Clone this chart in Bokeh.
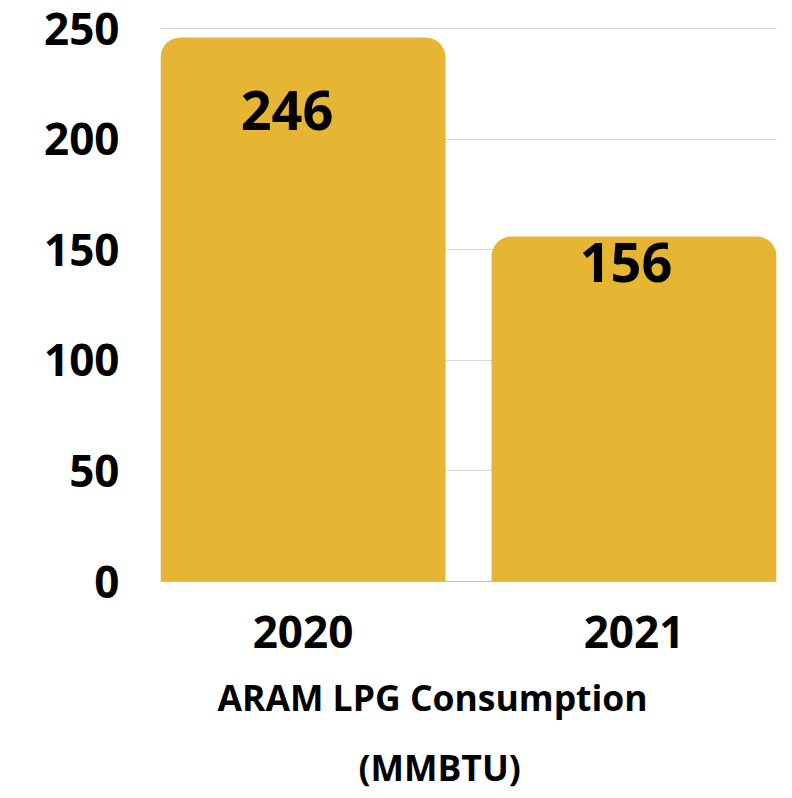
from bokeh.plotting import figure
from bokeh.models import ColumnDataSource, FactorRange, Range1d, LabelSet, SingleIntervalTicker, Title
from bokeh.core.properties import value
from bokeh.embed import file_html
from bokeh.resources import INLINE

years = ["2020", "2021"]
consumption = [246, 156]
value_labels = ["246", "156"]
axis_title_lines = ["ARAM LPG Consumption", "(MMBTU)"]
label_dy = [-73, -26]  # style: pixel offsets of the value labels below bar tops
label_dx = [-16, -8]   # style: horizontal pixel offsets of the value labels

FONT = "Open Sans"
BAR = "#E6B533"

src = ColumnDataSource(dict(x=years, top=consumption, text=value_labels,
                            dy=label_dy, dx=label_dx))

p = figure(
    x_range=FactorRange(factors=years, range_padding=-0.0695),
    y_range=Range1d(0, 250.5),
    width=792, height=798,
    output_backend="svg", toolbar_location=None,
    min_border_left=160, min_border_right=16, min_border_top=27, min_border_bottom=217,
)
p.outline_line_color = None
p.background_fill_color = "white"
p.border_fill_color = "white"

p.vbar(x="x", top="top", width=0.861, source=src, color=BAR, line_color=None,
       border_radius=(20, 20, 0, 0))

labels = LabelSet(x="x", y="top", text="text", source=src, y_offset="dy", x_offset="dx",
                  text_align="center", text_baseline="middle",
                  text_font=value(FONT), text_font_style="bold", text_font_size="54px",
                  text_color="black")
p.add_layout(labels)

p.yaxis.ticker = SingleIntervalTicker(interval=50)
p.yaxis.axis_line_color = None
p.yaxis.major_tick_line_color = None
p.yaxis.minor_tick_line_color = None
p.yaxis.major_label_standoff = 35
p.yaxis.major_label_text_font = FONT
p.yaxis.major_label_text_font_style = "bold"
p.yaxis.major_label_text_font_size = "44px"
p.yaxis.major_label_text_color = "black"

p.xaxis.axis_line_color = "#bdbdbd"
p.xaxis.axis_line_width = 1
p.xaxis.major_tick_line_color = None
p.xaxis.minor_tick_line_color = None
p.xaxis.major_label_standoff = 28
p.xaxis.major_label_text_font = FONT
p.xaxis.major_label_text_font_style = "bold"
p.xaxis.major_label_text_font_size = "44px"
p.xaxis.major_label_text_color = "black"

# axis title: two lines, each its own title panel below the axis
for txt, off, so in zip(axis_title_lines, [57, 198], [40, 0]):
    p.add_layout(Title(text=txt, align="left", offset=off, standoff=so,
                       text_font=FONT, text_font_style="bold", text_font_size="35.5px",
                       text_color="black"), "below")

p.xgrid.grid_line_color = None
p.ygrid.grid_line_color = "#d9d9d9"
p.ygrid.grid_line_width = 1

open("out.html", "w").write(file_html(p, INLINE))
